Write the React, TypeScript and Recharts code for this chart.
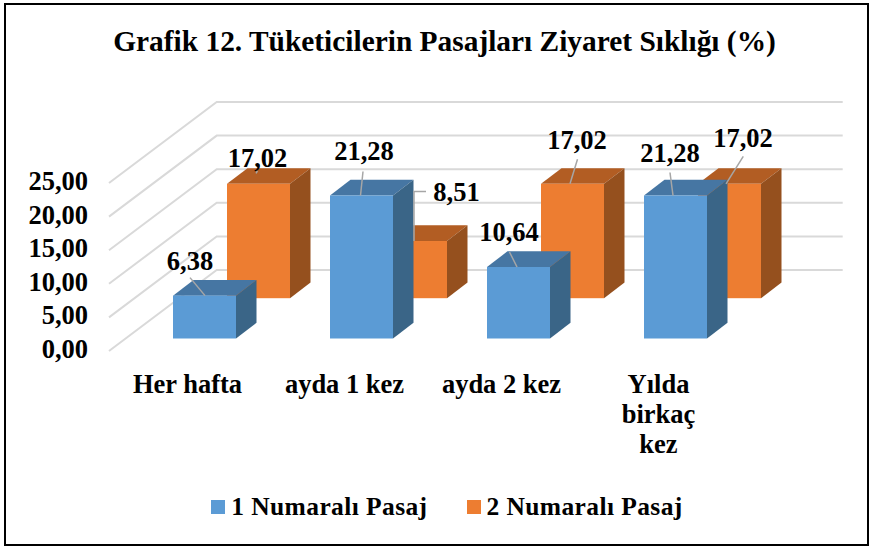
import { Bar, BarChart, CartesianGrid, LabelList, Legend, XAxis, YAxis } from "recharts";

const categories = ["Her hafta", "ayda 1 kez", "ayda 2 kez", "Yılda birkaç kez"];
const pasaj1 = [6.38, 21.28, 10.64, 21.28];
const pasaj2 = [17.02, 8.51, 17.02, 17.02];
const yTicks = [0, 5, 10, 15, 20, 25];
const seriesNames = ["1 Numaralı Pasaj", "2 Numaralı Pasaj"];

const data = categories.map((name, i) => ({ name, pasaj1: pasaj1[i], pasaj2: pasaj2[i] }));

const FONT = '"Liberation Serif", serif';
const BLUE = { front: "#5b9bd5", top: "#4676a3", side: "#3a6587" };
const ORANGE = { front: "#ed7d31", top: "#b25d23", side: "#95501e" };

// fake 3d: every bar is moved back into the box along the same diagonal
const BLUE_SHIFT = { x: 17, y: -12.5 };
const ORANGE_SHIFT = { x: 71, y: -52.8 };
const BAR_DEPTH = { x: 20.5, y: 15.7 };
const WALL_SHIFT = { x: 107.7, y: -81 };

// label text position and leader, relative to the top centre of the bar's front face
const blueLabels = [
  { tx: -14.5, ty: -26, leader: [[-14.5, -18], [0.5, 0]] },
  { tx: 2.5, ty: -35, leader: [[1.5, -24], [-1, 0]] },
  { tx: -9.5, ty: -26, leader: [[-9, -15], [-1.5, 0]] },
  { tx: -5.5, ty: -33, leader: [[-5.5, -23], [-2.5, 0]] },
];
const orangeLabels = [
  { tx: -1, ty: -16.5, leader: [[-1, -13], [-2.5, -10.5]] },
  { tx: 41, ty: -40.5, leader: [[10.5, -49.5], [-1.5, -49.5], [-1.5, 0]] },
  { tx: 4.5, ty: -34.5, leader: [[5, -24.5], [-2.5, 0]] },
  { tx: 13.5, ty: -36.5, leader: [[13.8, -27.5], [-3.5, 0]] },
];

function Bar3D({ x, y, width, height, shift, colors }: any) {
  const fx = x + shift.x;
  const fy = y + shift.y;
  const r = fx + width;
  const b = fy + height;
  const { x: dx, y: dy } = BAR_DEPTH;
  return (
    <g>
      <polygon
        points={`${fx},${fy} ${fx + dx},${fy - dy} ${r + dx},${fy - dy} ${r},${fy}`}
        fill={colors.top}
      />
      <polygon
        points={`${r},${fy} ${r + dx},${fy - dy} ${r + dx},${b - dy} ${r},${b}`}
        fill={colors.side}
      />
      <rect x={fx} y={fy} width={width} height={height} fill={colors.front} />
    </g>
  );
}

function makeLabel(shift: { x: number; y: number }, layout: typeof blueLabels) {
  return function BarLabel({ x, y, width, value, index }: any) {
    const cx = x + width / 2 + shift.x;
    const top = y + shift.y;
    const item = layout[index];
    const points = item.leader.map(([lx, ly]) => `${cx + lx},${top + ly}`).join(" ");
    return (
      <g>
        <polyline points={points} fill="none" stroke="#a6a6a6" strokeWidth={1.5} />
        <text
          x={cx + item.tx}
          y={top + item.ty}
          textAnchor="middle"
          fontFamily={FONT}
          fontWeight="bold"
          fontSize={26.5}
          fill="#000"
        >
          {Number(value).toFixed(2).replace(".", ",")}
        </text>
      </g>
    );
  };
}

function GridLine({ x1, y1, x2, y2 }: any) {
  const points = `${x1},${y1} ${x1 + WALL_SHIFT.x},${y1 + WALL_SHIFT.y} ${x2 + WALL_SHIFT.x - 2},${y2 + WALL_SHIFT.y}`;
  return <polyline key={y1} points={points} fill="none" stroke="#d9d9d9" strokeWidth={2} />;
}

function CategoryTick({ x, y, payload }: any) {
  const words = payload.value === "Yılda birkaç kez" ? payload.value.split(" ") : [payload.value];
  return (
    <text
      x={x}
      y={y}
      textAnchor="middle"
      fontFamily={FONT}
      fontWeight="bold"
      fontSize={26.5}
      fill="#000"
    >
      {words.map((w: string, i: number) => (
        <tspan key={w} x={x} y={y + 2.5 + i * 30}>
          {w}
        </tspan>
      ))}
    </text>
  );
}

function ValueTick({ x, y, payload }: any) {
  return (
    <text
      x={x + 6}
      y={y + 7}
      textAnchor="end"
      fontFamily={FONT}
      fontWeight="bold"
      fontSize={26.5}
      fill="#000"
    >
      {Number(payload.value).toFixed(2).replace(".", ",")}
    </text>
  );
}

function LegendRow() {
  const colors = [BLUE.front, ORANGE.front];
  return (
    <div style={{ display: "flex", justifyContent: "center", gap: 39, paddingLeft: 24, fontFamily: FONT, fontWeight: "bold", fontSize: 25.5 }}>
      {seriesNames.map((name, i) => (
        <div key={name} style={{ display: "flex", alignItems: "center", gap: 6, lineHeight: "28px", letterSpacing: 0.4 }}>
          <span style={{ width: 14, height: 14, background: colors[i], display: "inline-block" }} />
          {name}
        </div>
      ))}
    </div>
  );
}

export default function App() {
  return (
    <div style={{ position: "absolute", left: 0, top: 0, width: 870, height: 547, background: "#fff" }}>
      <div
        style={{
          position: "absolute",
          left: 4,
          top: 3,
          width: 861,
          height: 539,
          border: "2px solid #000",
        }}
      />
      <div
        style={{
          position: "absolute",
          left: 0,
          top: 23,
          width: 889,
          textAlign: "center",
          fontFamily: FONT,
          fontWeight: "bold",
          fontSize: 29.4,
          lineHeight: "36px",
          color: "#000",
        }}
      >
        Grafik 12. Tüketicilerin Pasajları Ziyaret Sıklığı (%)
      </div>
      <BarChart
        width={870}
        height={547}
        data={data}
        margin={{ top: 183, right: 133, bottom: 166, left: 49 }}
        barSize={63}
        barGap={-63}
        style={{ position: "absolute", left: 0, top: 0 }}
      >
        <CartesianGrid vertical={false} horizontal={(p: any) => <GridLine key={p.y1} {...p} />} />
        <XAxis
          dataKey="name"
          height={30}
          axisLine={false}
          tickLine={false}
          interval={0}
          tick={<CategoryTick />}
          tickMargin={33}
        />
        <YAxis
          width={60}
          domain={[0, 25]}
          ticks={yTicks}
          axisLine={false}
          tickLine={false}
          tick={<ValueTick />}
          tickMargin={21}
        />
        <Legend
          layout="horizontal"
          verticalAlign="middle"
          align="center"
          wrapperStyle={{ top: 493, left: 0, width: 870 }}
          content={<LegendRow />}
        />
        <Bar
          dataKey="pasaj2"
          name={seriesNames[1]}
          fill={ORANGE.front}
          isAnimationActive={false}
          shape={(p: any) => <Bar3D {...p} shift={ORANGE_SHIFT} colors={ORANGE} />}
        />
        <Bar
          dataKey="pasaj1"
          name={seriesNames[0]}
          fill={BLUE.front}
          isAnimationActive={false}
          shape={(p: any) => <Bar3D {...p} shift={BLUE_SHIFT} colors={BLUE} />}
        >
          <LabelList dataKey="pasaj1" content={makeLabel(BLUE_SHIFT, blueLabels)} />
        </Bar>
        {/* empty bar only so the orange labels sit above the blue bars */}
        <Bar
          dataKey="pasaj2"
          legendType="none"
          isAnimationActive={false}
          shape={() => <g />}
        >
          <LabelList dataKey="pasaj2" content={makeLabel(ORANGE_SHIFT, orangeLabels)} />
        </Bar>
      </BarChart>
    </div>
  );
}
